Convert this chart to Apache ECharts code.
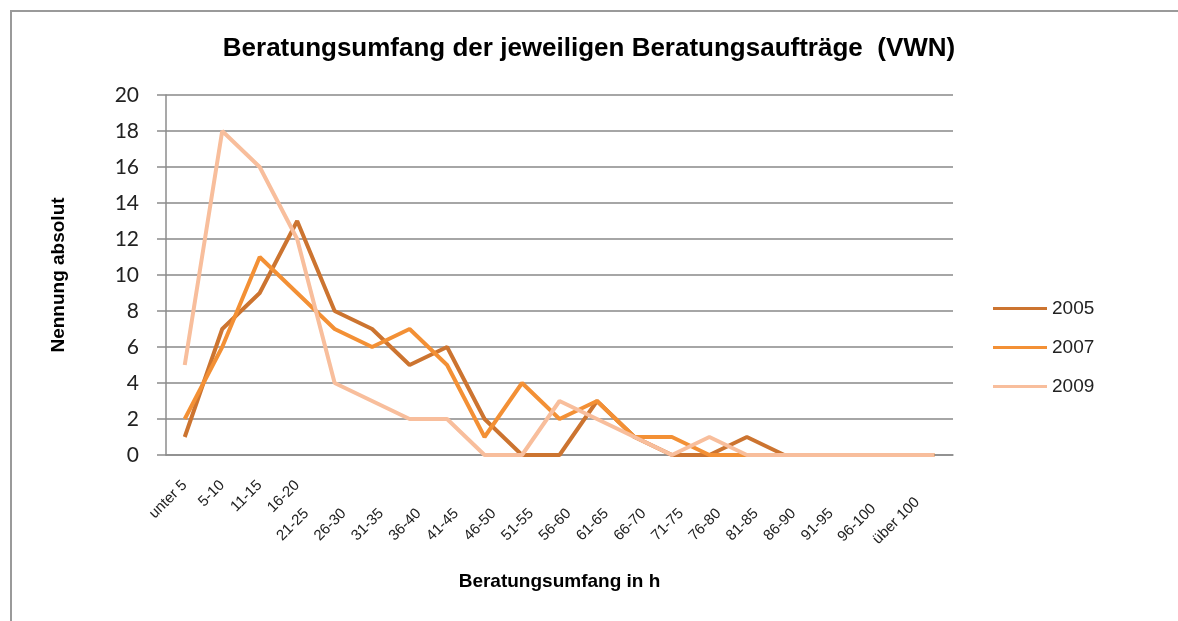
<!DOCTYPE html>
<html>
<head>
<meta charset="utf-8">
<script src="https://cdn.jsdelivr.net/npm/echarts@6/dist/echarts.min.js"></script>
<style>
  html, body { margin: 0; padding: 0; background: #fff; }
  #chart { width: 1178px; height: 621px; }
</style>
</head>
<body>
<div id="chart"></div>
<script>
// Kategorien (Beratungsumfang in h)
var categories = ['unter 5', '5-10', '11-15', '16-20', '21-25', '26-30', '31-35', '36-40', '41-45', '46-50',
    '51-55', '56-60', '61-65', '66-70', '71-75', '76-80', '81-85', '86-90', '91-95', '96-100', 'über 100'];

// Nennungen absolut je Jahr
var years = ['2005', '2007', '2009'];
var data2005 = [1, 7, 9, 13, 8, 7, 5, 6, 2, 0, 0, 3, 1, 0, 0, 1, 0, 0, 0, 0, 0];
var data2007 = [2, 6, 11, 9, 7, 6, 7, 5, 1, 4, 2, 3, 1, 1, 0, 0, 0, 0, 0, 0, 0];
var data2009 = [5, 18, 16, 12, 4, 3, 2, 2, 0, 0, 3, 2, 1, 0, 1, 0, 0, 0, 0, 0, 0];

var yTicks = [0, 2, 4, 6, 8, 10, 12, 14, 16, 18, 20];

var colors = ['#CC7430', '#F39035', '#F8BE9C'];

// Excel setzt die Beschriftungen ab "21-25" eine Zeile tiefer
function labelPadding(name, i) {
    if (i < 4) return 0;
    if (name === 'über 100') return 24;
    if (name === '96-100') return 33;
    return 40;
}

var xData = categories.map(function (name, i) {
    return { value: name, textStyle: { padding: [0, labelPadding(name, i), 0, 0] } };
});

var chart = echarts.init(document.getElementById('chart'));

var option = {
    animation: false,
    color: colors,
    title: {
        text: 'Beratungsumfang der jeweiligen Beratungsaufträge  (VWN)',
        left: 'center',
        top: 31,
        padding: [5, 0, 5, 18],
        textStyle: {
            fontFamily: 'Liberation Sans',
            fontWeight: 'bold',
            fontSize: 26,
            color: '#000'
        }
    },
    legend: {
        data: years,
        orient: 'vertical',
        left: 988,
        top: 294,
        icon: 'rect',
        itemWidth: 54,
        itemHeight: 3,
        itemGap: 20,
        textStyle: {
            fontFamily: 'Liberation Sans',
            fontSize: 19,
            color: '#222'
        }
    },
    graphic: [{
        type: 'rect',
        shape: { x: 11, y: 11, width: 1200, height: 640 },
        style: { fill: 'none', stroke: '#9a9a9a', lineWidth: 2 },
        silent: true
    }],
    grid: {
        left: 166,
        right: 225,
        top: 95,
        bottom: 166,
        containLabel: false
    },
    xAxis: {
        type: 'category',
        data: xData,
        boundaryGap: true,
        name: 'Beratungsumfang in h',
        nameLocation: 'middle',
        nameGap: 117,
        nameTextStyle: {
            fontFamily: 'Liberation Sans',
            fontWeight: 'bold',
            fontSize: 19,
            color: '#000'
        },
        axisLine: { lineStyle: { color: '#8c8c8c', width: 1.5 } },
        axisTick: { show: false },
        axisLabel: {
            interval: 0,
            rotate: 45,
            margin: 28,
            fontFamily: 'Liberation Sans',
            fontSize: 15,
            color: '#222'
        }
    },
    yAxis: {
        type: 'value',
        min: yTicks[0],
        max: yTicks[yTicks.length - 1],
        interval: 2,
        name: 'Nennung absolut',
        nameLocation: 'middle',
        nameGap: 98,
        nameTextStyle: {
            fontFamily: 'Liberation Sans',
            fontWeight: 'bold',
            fontSize: 19,
            color: '#000'
        },
        axisLine: { show: true, lineStyle: { color: '#8c8c8c', width: 1.5 } },
        axisTick: { show: true, inside: false, length: 9, lineStyle: { color: '#8c8c8c', width: 1.5 } },
        axisLabel: {
            margin: 27,
            fontFamily: 'Lato',
            fontSize: 21,
            color: '#222'
        },
        splitLine: { show: true, lineStyle: { color: '#a6a6a6', width: 2 } }
    },
    series: [{
        name: years[0],
        type: 'line',
        symbol: 'none',
        data: data2005,
        lineStyle: { width: 4 }
    }, {
        name: years[1],
        type: 'line',
        symbol: 'none',
        data: data2007,
        lineStyle: { width: 4 }
    }, {
        name: years[2],
        type: 'line',
        symbol: 'none',
        data: data2009,
        lineStyle: { width: 4 }
    }]
};

chart.setOption(option);
</script>
</body>
</html>
